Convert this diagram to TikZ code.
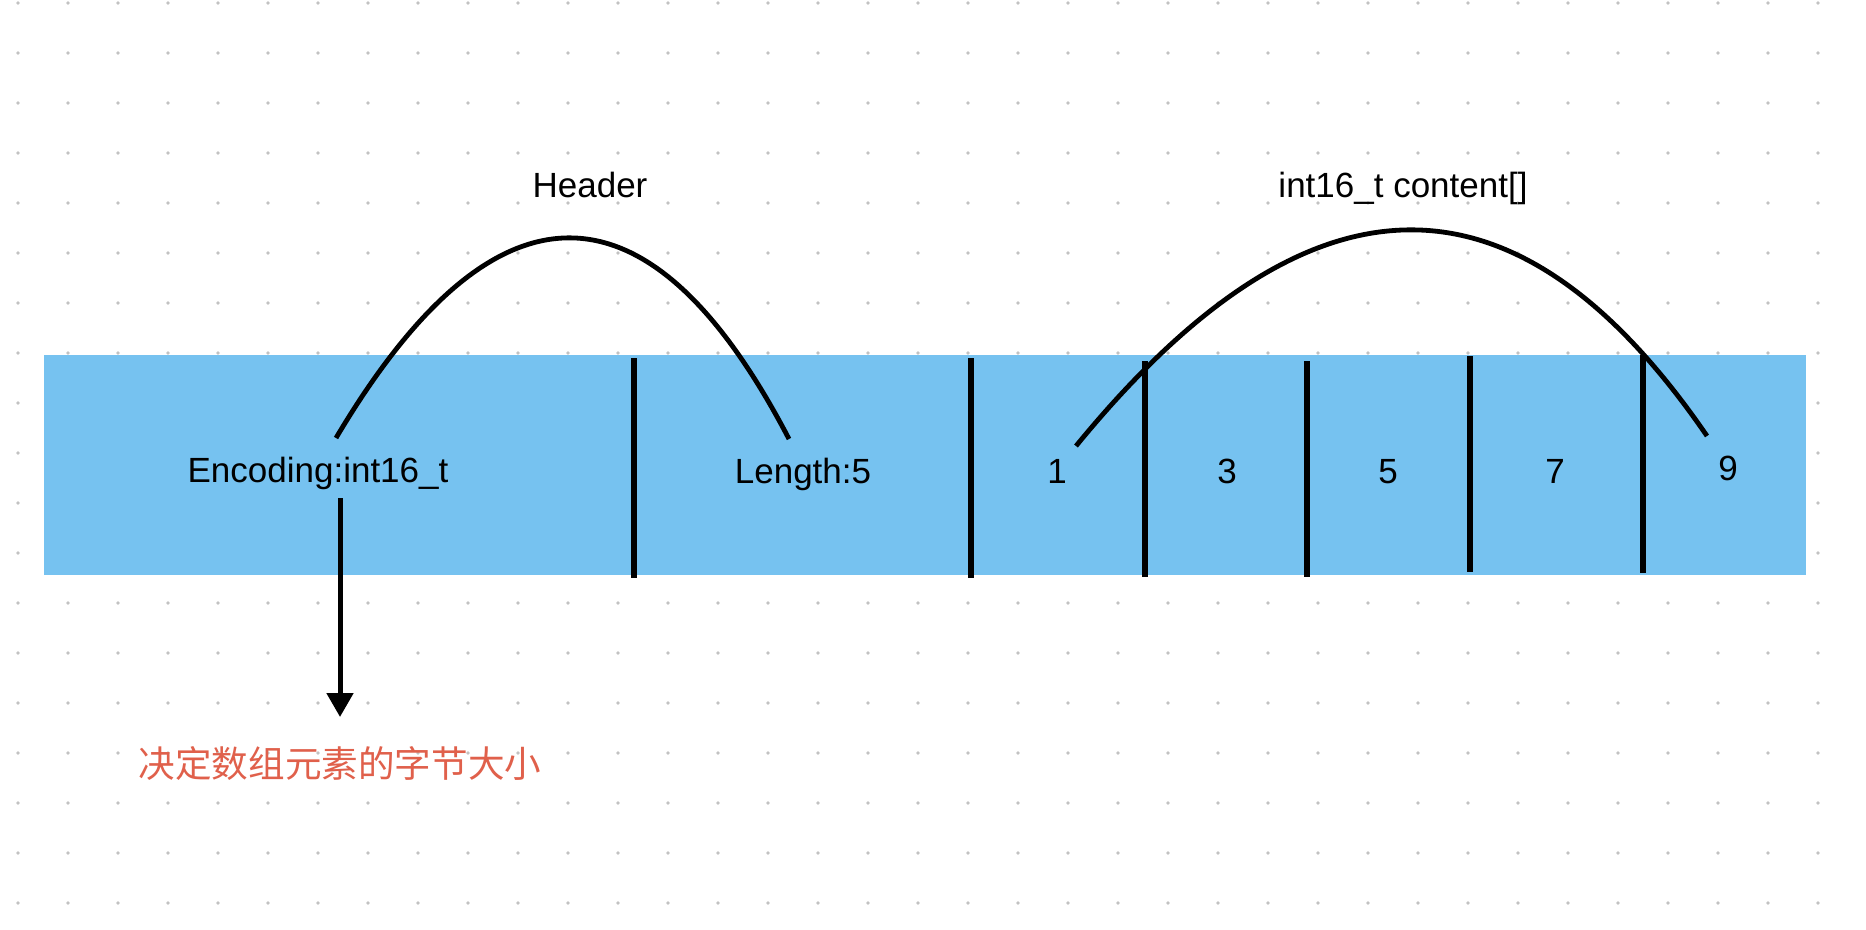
\documentclass[tikz,border=0pt]{standalone}
\usepackage{fontspec}
\setmainfont{Liberation Sans}
\newfontfamily\cjk{Noto Sans CJK SC}
\usetikzlibrary{arrows.meta,positioning}
\definecolor{cellblue}{HTML}{76C2F0}
\definecolor{gridgray}{HTML}{C2C2C2}
\definecolor{notered}{HTML}{E0604B}

\begin{document}
\begin{tikzpicture}[
    x=0.5pt,y=-0.5pt,
    label/.style={anchor=base,inner sep=0pt,font=\fontsize{17.5}{21}\selectfont},
    note/.style={anchor=base,inner sep=0pt,text=notered,font=\cjk\fontsize{18.3}{22}\selectfont},
    bar/.style={fill=cellblue,minimum width=881pt,minimum height=110.25pt,inner sep=0pt},
    sep/.style={line width=2.65pt},
    brace/.style={line width=2.4pt},
    arrow/.style={-{Triangle[width=13pt,length=12pt]},line width=2.5pt}
  ]
    \fill[white] (0,0) rectangle (1866,930);
    \useasboundingbox (0,0) rectangle (1866,930);
    \foreach \i in {0,...,36}
      \foreach \j in {0,...,18}
        \fill[gridgray] (18+50*\i,3+50*\j) circle[radius=0.95pt];
    \node[bar] (cells) at (925,465) {};
    \foreach \x/\ya/\yb in {634/358/578,971/358/578,1145/361/577,1307/361/577,1470/356/572,1643/355/573}
      \draw[sep] (\x,\ya) -- (\x,\yb);
    \node[label] (enc) at (318,482) {Encoding:int16\_t};
    \node[label] (len) at (803,483) {Length:5};
    \foreach \v/\x/\y in {1/1057/483,3/1227/483,5/1388/483,7/1555/483,9/1728/480}
      \node[label] (n\v) at (\x,\y) {\v};
    \node[label] (hdr) at (590,198) {Header};
    \node[label] (arr) at (1403,198) {int16\_t content[]};
    \node[note] (note) at (340,777) {决定数组元素的字节大小};
    \coordinate (hdrL) at (336,438);
    \coordinate (hdrR) at (789,439);
    \coordinate (arrL) at (1076,446);
    \coordinate (arrR) at (1707,436);
    \draw[brace] (hdrL) .. controls (495,170) and (650,172) .. (hdrR);
    \draw[brace] (arrL) .. controls (1310,160) and (1517,159) .. (arrR);
    \draw[arrow,shorten <=8pt,shorten >=30pt] (enc.base -| note.base) -- (note.base);
  \end{tikzpicture}
\end{document}
